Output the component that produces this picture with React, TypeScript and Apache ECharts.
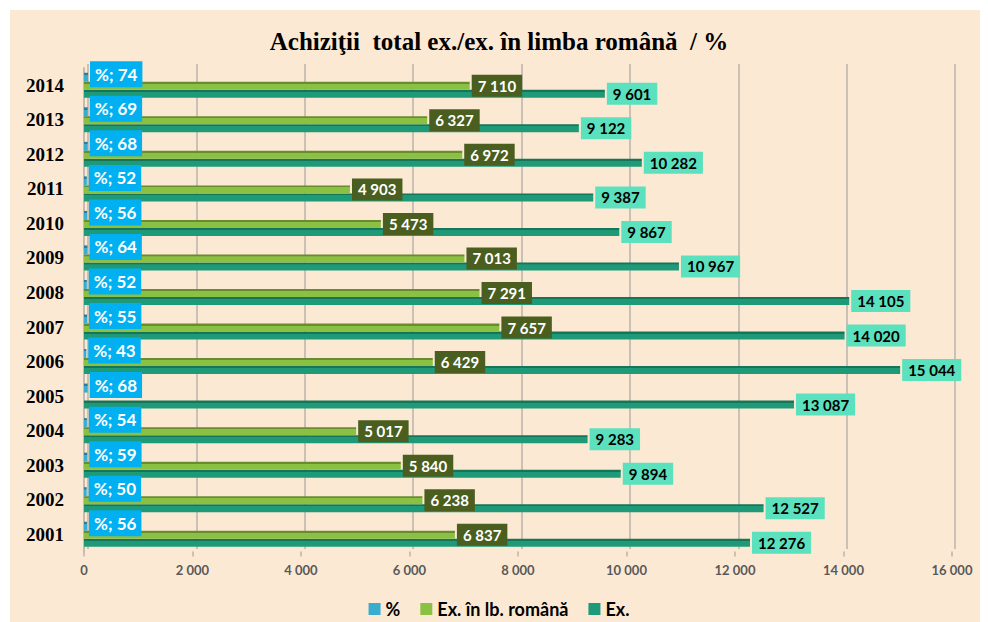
import React, { useEffect, useRef } from "react";
import * as echarts from "echarts";

const years = ["2001", "2002", "2003", "2004", "2005", "2006", "2007", "2008", "2009", "2010", "2011", "2012", "2013", "2014"];
const pctValues = [56, 50, 59, 54, 68, 43, 55, 52, 64, 56, 52, 68, 69, 74];
const roValues: (number | null)[] = [6837, 6238, 5840, 5017, null, 6429, 7657, 7291, 7013, 5473, 4903, 6972, 6327, 7110];
const exValues = [12276, 12527, 9894, 9283, 13087, 15044, 14020, 14105, 10967, 9867, 9387, 10282, 9122, 9601];
const seriesNames = ["%", "Ex. în lb. română", "Ex."];
const xMin = 0;
const xMax = 16000;
const xInterval = 2000;
const titleText = "Achiziţii  total ex./ex. în limba română  / %";

const fmt = (v: number) => String(v).replace(/\B(?=(\d{3})+(?!\d))/g, " ");
const LABEL_FONT = "Lato, 'Open Sans', sans-serif";
const SERIF = "'Liberation Serif', 'Times New Roman', serif";

const grad = (top: string, body: string) =>
  new echarts.graphic.LinearGradient(0, 0, 0, 1, [
    { offset: 0, color: top },
    { offset: 0.25, color: top },
    { offset: 0.26, color: body },
    { offset: 1, color: body },
  ]);

export default function App() {
  const ref = useRef<HTMLDivElement>(null);
  useEffect(() => {
    if (!ref.current) return;
    const chart = echarts.init(ref.current, undefined, { renderer: "svg" });
    chart.setOption({
      animation: false,
      backgroundColor: "#FCE9D3",
      title: {
        text: titleText,
        left: "center",
        top: 14,
        textStyle: {
          fontFamily: SERIF,
          fontWeight: "bold",
          fontSize: 25,
          color: "#000",
        },
      },
      legend: {
        top: 585,
        left: "center",
        itemWidth: 12,
        itemHeight: 12,
        itemGap: 20,
        icon: "rect",
        textStyle: { fontFamily: LABEL_FONT, fontWeight: "bold", fontSize: 18, color: "#000" },
        data: [
          { name: seriesNames[0], itemStyle: { color: "#38ADD0" } },
          { name: seriesNames[1], itemStyle: { color: "#8BC142" } },
          { name: seriesNames[2], itemStyle: { color: "#1E9A78" } },
        ],
      },
      grid: [
        { left: 74, right: 36, top: 58, height: 483.5, containLabel: false },
        { left: 78, right: 33, top: 54, height: 485, containLabel: false },
      ],
      xAxis: [
        {
          type: "value",
          gridIndex: 0,
          min: xMin,
          max: xMax,
          interval: xInterval,
          splitLine: { show: false },
          axisLine: { show: false },
          axisTick: { show: true, length: 5, lineStyle: { color: "#BDB5A9", width: 1.5 } },
          axisLabel: {
            margin: 12,
            fontFamily: LABEL_FONT,
            fontWeight: "bold",
            fontSize: 13,
            color: "#595959",
            formatter: (v: number) => fmt(v),
          },
        },
        {
          type: "value",
          gridIndex: 1,
          min: xMin,
          max: xMax,
          interval: xInterval,
          splitLine: { show: true, lineStyle: { color: "#C9C1B5", width: 2 } },
          axisLine: { show: false },
          axisTick: { show: false },
          axisLabel: { show: false },
        },
      ],
      yAxis: [
        {
          type: "category",
          gridIndex: 0,
          data: years,
          axisTick: { show: false },
          axisLine: { show: true, lineStyle: { color: "#C4BCB0", width: 2 } },
          axisLabel: {
            margin: 20,
            padding: [5, 0, 0, 0],
            fontFamily: SERIF,
            fontWeight: "bold",
            fontSize: 19,
            color: "#000",
          },
        },
        {
          type: "category",
          gridIndex: 1,
          data: years,
          show: false,
        },
      ],
      series: [
        {
          name: seriesNames[0],
          type: "bar",
          xAxisIndex: 0,
          yAxisIndex: 0,
          data: pctValues,
          barWidth: 9,
          barGap: "0%",
          itemStyle: { color: grad("#237F9E", "#38ADD0") },
          label: {
            show: true,
            position: "right",
            distance: 2,
            offset: [0, -3],
            formatter: (p: any) => "%; " + p.value,
            color: "#fff",
            backgroundColor: "#00B0F0",
            padding: [5, 5, 4, 5],
            fontFamily: LABEL_FONT,
            fontWeight: "bold",
            fontSize: 17,
          },
          z: 5,
        },
        {
          name: seriesNames[1],
          type: "bar",
          xAxisIndex: 0,
          yAxisIndex: 0,
          data: roValues,
          barWidth: 8,
          barGap: "0%",
          itemStyle: { color: grad("#6A8C30", "#8BC142") },
          label: {
            show: true,
            position: "right",
            distance: 2,
            formatter: (p: any) => fmt(p.value),
            color: "#fff",
            backgroundColor: "#4A5E1F",
            padding: [4, 6, 3, 6],
            fontFamily: LABEL_FONT,
            fontWeight: "bold",
            fontSize: 15,
          },
          z: 4,
        },
        {
          name: seriesNames[2],
          type: "bar",
          xAxisIndex: 0,
          yAxisIndex: 0,
          data: exValues,
          barWidth: 8,
          barGap: "0%",
          itemStyle: { color: grad("#167559", "#1E9A78") },
          label: {
            show: true,
            position: "right",
            distance: 2,
            formatter: (p: any) => fmt(p.value),
            color: "#000",
            backgroundColor: "#5CE1BE",
            padding: [4, 6, 3, 6],
            fontFamily: LABEL_FONT,
            fontWeight: "bold",
            fontSize: 15,
          },
          z: 3,
        },
      ],
    });
    return () => chart.dispose();
  }, []);
  return (
    <div style={{ padding: "2px 0 0 2px" }}>
      <div ref={ref} style={{ width: 978, height: 612 }} />
    </div>
  );
}
